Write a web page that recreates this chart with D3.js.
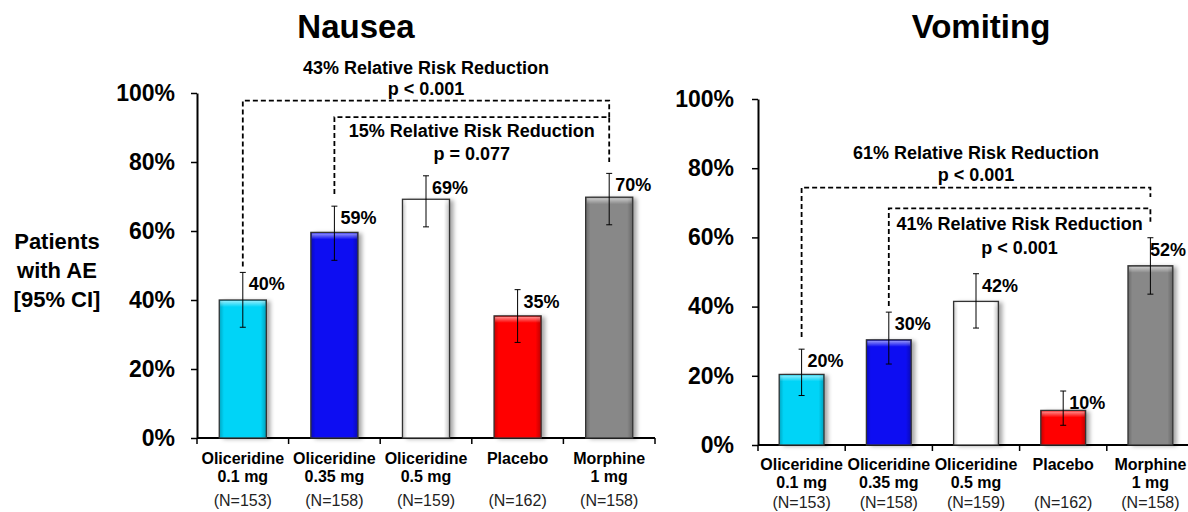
<!DOCTYPE html>
<html><head><meta charset="utf-8">
<script src="https://cdn.jsdelivr.net/npm/d3@7"></script>
<style>
body{margin:0;background:#fff;}
svg{display:block;font-family:"Liberation Sans",Arial,sans-serif;}
</style></head>
<body><svg id="chart" width="1188" height="512"></svg>
<script>
// ---------- data ----------
const catLine1 = ["Oliceridine","Oliceridine","Oliceridine","Placebo","Morphine"];
const catLine2 = ["0.1 mg","0.35 mg","0.5 mg","","1 mg"];
const nLabels = ["(N=153)","(N=158)","(N=159)","(N=162)","(N=158)"];
const barColors = ["#00d4f7","#0a0af2","#ffffff","#ff0000","#888888"];
const yTicks = [0,20,40,60,80,100];

const nauseaValues = [40.0, 59.6, 69.2, 35.4, 69.8];
const nauseaLow    = [32.1, 51.5, 61.2, 27.7, 61.8];
const nauseaHigh   = [48.0, 67.2, 76.0, 43.0, 76.7];
const nauseaLabels = ["40%","59%","69%","35%","70%"];

const vomitValues = [20.4, 30.4, 41.5, 10.0, 51.8];
const vomitLow    = [14.3, 23.4, 33.8, 5.7, 43.6];
const vomitHigh   = [27.7, 38.4, 49.5, 15.6, 59.9];
const vomitLabels = ["20%","30%","42%","10%","52%"];

const nauseaRRR = [["43% Relative Risk Reduction","p < 0.001"],["15% Relative Risk Reduction","p = 0.077"]];
const vomitRRR  = [["61% Relative Risk Reduction","p < 0.001"],["41% Relative Risk Reduction","p < 0.001"]];

// ---------- drawing ----------
const svg = d3.select("#chart");
const defs = svg.append("defs");
const f = defs.append("filter").attr("id","shadow").attr("x","-20%").attr("y","-10%").attr("width","150%").attr("height","130%");
f.append("feDropShadow").attr("dx",4).attr("dy",1).attr("stdDeviation",2).attr("flood-color","#000").attr("flood-opacity",0.35);
const gh = defs.append("linearGradient").attr("id","hgrad").attr("x1","0").attr("x2","1").attr("y1","0").attr("y2","0");
[[0,0.22],[0.1,0],[0.88,0],[1,0.25]].forEach(([o,a])=>gh.append("stop").attr("offset",o).attr("stop-color","#000").attr("stop-opacity",a));
const gv = defs.append("linearGradient").attr("id","vgrad").attr("x1","0").attr("x2","0").attr("y1","0").attr("y2","1");
[[0,0.55],[1,0]].forEach(([o,a])=>gv.append("stop").attr("offset",o).attr("stop-color","#fff").attr("stop-opacity",a));

function panel(cfg){
  const g = svg.append("g");
  const idx = d3.range(cfg.values.length);
  const x = d3.scaleBand().domain(idx).range(cfg.xRange).paddingInner(0.486).paddingOuter(0.243);
  const y = d3.scaleLinear().domain([0,100]).range(cfg.yRange);
  const step = x.step();

  // title
  g.append("text").attr("x",cfg.titleX).attr("y",38).attr("text-anchor","middle")
    .attr("font-size",33).attr("font-weight","bold").text(cfg.title);

  // y axis
  const ya = d3.axisLeft(y).tickValues(yTicks).tickFormat(d=>d+"%").tickSize(6).tickSizeOuter(0).tickPadding(cfg.tickPad);
  const yg = g.append("g").attr("transform",`translate(${cfg.xRange[0]},0)`).call(ya);
  yg.select(".domain").attr("stroke","#000").attr("stroke-width",2);
  yg.selectAll(".tick line").attr("stroke","#000").attr("stroke-width",1.5);
  yg.selectAll(".tick text").attr("font-size",23).attr("font-weight","bold").attr("fill","#000")
    .attr("font-family","'Liberation Sans',Arial,sans-serif");

  // x axis line + ticks at band boundaries
  g.append("line").attr("x1",cfg.xRange[0]).attr("x2",cfg.xRange[1]).attr("y1",y(0)).attr("y2",y(0))
    .attr("stroke","#000").attr("stroke-width",2);
  g.selectAll(".xt").data(d3.range(idx.length+1)).join("line")
    .attr("x1",i=>cfg.xRange[0]+i*step).attr("x2",i=>cfg.xRange[0]+i*step)
    .attr("y1",y(0)).attr("y2",y(0)+6).attr("stroke","#000").attr("stroke-width",1.5);

  // bars
  const bars = g.selectAll(".bar").data(idx).join("g");
  bars.append("rect").attr("x",i=>x(i)).attr("y",i=>y(cfg.values[i])).attr("width",x.bandwidth())
    .attr("height",i=>y(0)-y(cfg.values[i])).attr("fill",i=>barColors[i]).attr("filter","url(#shadow)");
  bars.append("rect").attr("x",i=>x(i)).attr("y",i=>y(cfg.values[i])).attr("width",x.bandwidth())
    .attr("height",i=>y(0)-y(cfg.values[i])).attr("fill","url(#hgrad)");
  bars.append("rect").attr("x",i=>x(i)+1).attr("y",i=>y(cfg.values[i])+1).attr("width",x.bandwidth()-2)
    .attr("height",6).attr("fill","url(#vgrad)");
  bars.append("rect").attr("x",i=>x(i)).attr("y",i=>y(cfg.values[i])).attr("width",x.bandwidth())
    .attr("height",i=>y(0)-y(cfg.values[i])).attr("fill","none").attr("stroke","#333").attr("stroke-width",1.3);

  // error bars
  const cx = i=>x(i)+x.bandwidth()/2;
  const eb = g.selectAll(".eb").data(idx).join("g").attr("stroke","#000").attr("stroke-width",1);
  eb.append("line").attr("x1",cx).attr("x2",cx).attr("y1",i=>y(cfg.low[i])).attr("y2",i=>y(cfg.high[i]));
  eb.append("line").attr("x1",i=>cx(i)-3).attr("x2",i=>cx(i)+3).attr("y1",i=>y(cfg.low[i])).attr("y2",i=>y(cfg.low[i]));
  eb.append("line").attr("x1",i=>cx(i)-3).attr("x2",i=>cx(i)+3).attr("y1",i=>y(cfg.high[i])).attr("y2",i=>y(cfg.high[i]));

  // value labels
  g.selectAll(".vl").data(idx).join("text").attr("x",i=>cx(i)+6).attr("y",i=>y(cfg.high[i])+18)
    .attr("font-size",18).attr("font-weight","bold").text(i=>cfg.labels[i])
    .each(function(){ const w=this.getComputedTextLength(); const xx=+this.getAttribute("x");
      if(xx+w>1186) this.setAttribute("x",1186-w); });

  // category labels
  const cl = g.selectAll(".cl").data(idx).join("text").attr("text-anchor","middle").attr("font-size",16);
  cl.append("tspan").attr("x",cx).attr("y",cfg.labY[0]).attr("font-weight","bold").text(i=>catLine1[i]);
  cl.append("tspan").attr("x",cx).attr("y",cfg.labY[1]).attr("font-weight","bold").text(i=>catLine2[i]);
  cl.append("tspan").attr("x",cx).attr("y",cfg.labY[2]).attr("fill","#222").text(i=>nLabels[i]);

  // brackets
  cfg.brackets.forEach((b,k)=>{
    const x1 = cx(b.from), x2 = cx(b.to);
    g.append("path").attr("d",`M${x1},${y(b.leftBottom)}V${y(b.top)}H${x2}V${y(b.rightBottom)}`)
      .attr("fill","none").attr("stroke","#000").attr("stroke-width",1.8).attr("stroke-dasharray","5,3");
    const tx = b.textAt==="mid" ? (cx(2)+cx(3))/2 : cx(2);
    b.text.forEach((t,j)=>{
      g.append("text").attr("x",tx).attr("y",y(b.textY[j])).attr("text-anchor","middle")
        .attr("font-size",18).attr("font-weight","bold").text(t);
    });
  });
}

panel({
  title:"Nausea", titleX:356, xRange:[197,655], yRange:[438,93], tickPad:16,
  values:nauseaValues, low:nauseaLow, high:nauseaHigh, labels:nauseaLabels,
  labY:[464,482,506],
  brackets:[
    {from:0,to:4,top:97.8,leftBottom:49.7,rightBottom:93,text:nauseaRRR[0],textY:[105.4,99.3],textAt:"bar"},
    {from:1,to:4,top:93,leftBottom:70.7,rightBottom:80,text:nauseaRRR[1],textY:[87.3,80.7],textAt:"mid"}
  ]
});
panel({
  title:"Vomiting", titleX:981, xRange:[758,1194], yRange:[445,99], tickPad:18,
  values:vomitValues, low:vomitLow, high:vomitHigh, labels:vomitLabels,
  labY:[470,488,508],
  brackets:[
    {from:0,to:4,top:74.4,leftBottom:31.2,rightBottom:71.7,text:vomitRRR[0],textY:[82.7,76.3],textAt:"bar"},
    {from:1,to:4,top:68.4,leftBottom:40.2,rightBottom:64.5,text:vomitRRR[1],textY:[62,55.3],textAt:"mid"}
  ]
});

// y-axis title
const yt = svg.append("text").attr("text-anchor","middle").attr("font-size",22).attr("font-weight","bold");
["Patients","with AE","[95% CI]"].forEach((t,i)=>yt.append("tspan").attr("x",57).attr("y",249+i*29).text(t));
</script></body></html>
